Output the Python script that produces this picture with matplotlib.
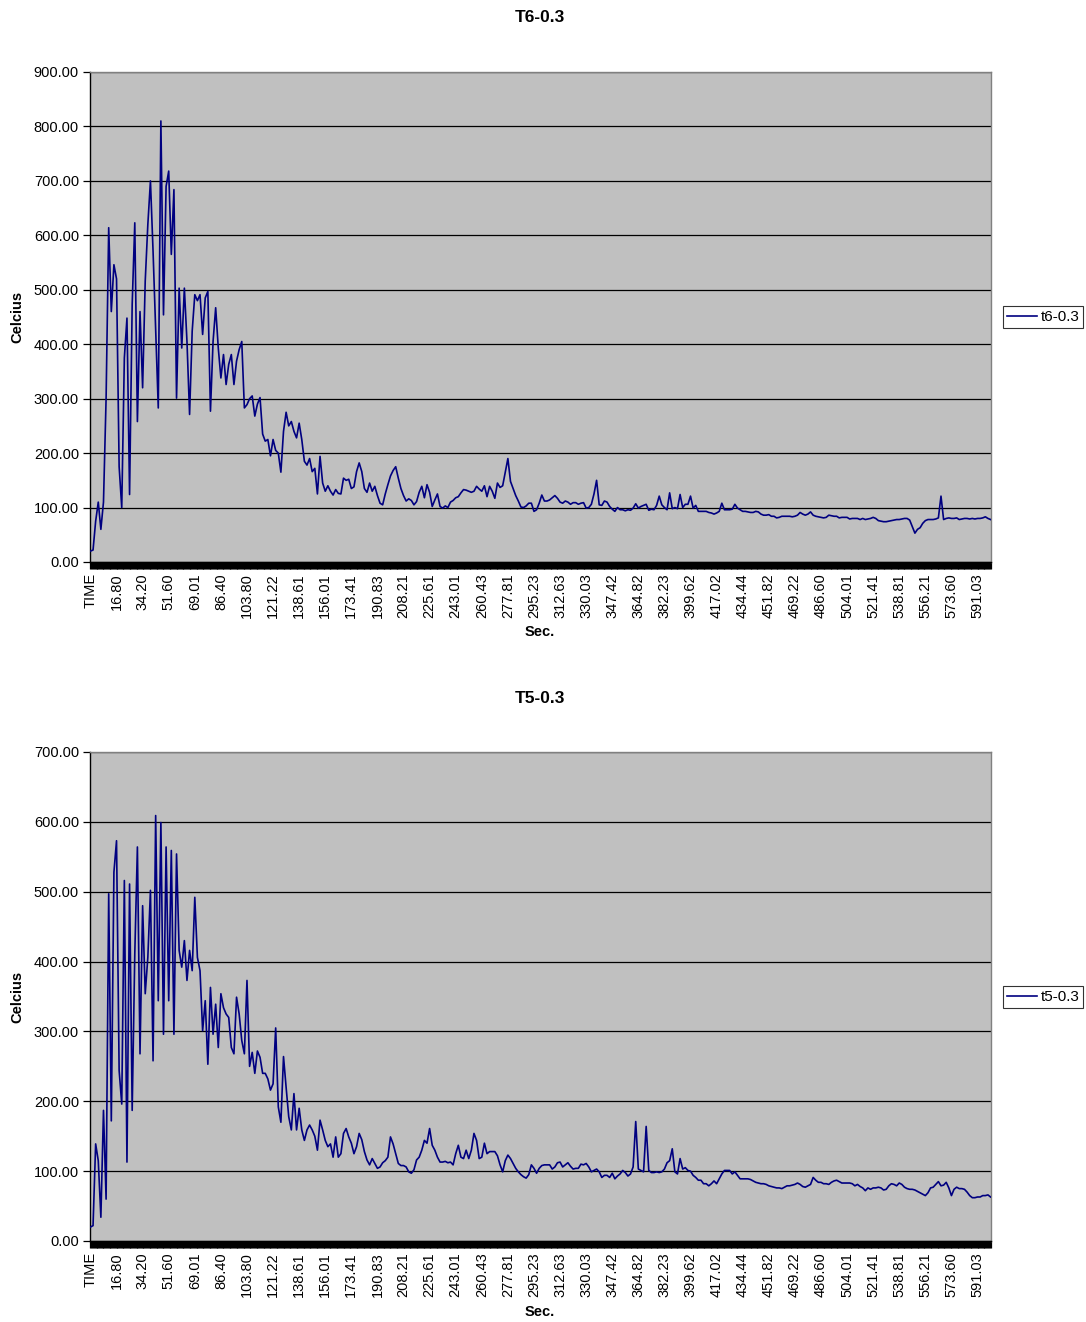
import numpy as np
import matplotlib
matplotlib.use("Agg")
import matplotlib.pyplot as plt
from matplotlib.ticker import FixedLocator, FormatStrFormatter

plt.rcParams['font.family'] = ['Liberation Sans', 'DejaVu Sans']

# ---------------- data ----------------
n_categories = 1036          # number of time samples (category axis)
sample_every = 3             # values below are read every 3rd sample

tick_labels = ["TIME", "16.80", "34.20", "51.60", "69.01", "86.40", "103.80", "121.22",
               "138.61", "156.01", "173.41", "190.83", "208.21", "225.61", "243.01",
               "260.43", "277.81", "295.23", "312.63", "330.03", "347.42", "364.82",
               "382.23", "399.62", "417.02", "434.44", "451.82", "469.22", "486.60",
               "504.01", "521.41", "538.81", "556.21", "573.60", "591.03"]
label_every = 30

t6 = [20, 22, 75, 110, 60, 110, 300, 614, 460, 546,
      520, 175, 100, 375, 448, 124, 473, 623, 258, 460,
      320, 516, 620, 700, 571, 430, 283, 810, 454, 690,
      718, 565, 684, 301, 503, 393, 503, 405, 271, 424,
      491, 480, 491, 418, 485, 497, 277, 405, 467, 393,
      338, 381, 326, 363, 381, 326, 369, 390, 405, 283,
      289,
      300, 305, 268, 290, 302, 235, 222, 225, 195, 225,
      205, 200, 165, 240, 275, 250, 258, 240, 228, 255,
      225, 185, 178, 190, 166, 172, 125, 194, 145, 130,
      140, 130, 123, 133, 126, 125, 154, 150, 152, 135,
      138, 166, 182, 166, 135, 128, 145, 130, 139, 122,
      108, 105, 125, 142, 158, 168, 175, 154, 135, 122,
      112, 116, 113, 105, 111, 128, 139, 118, 142, 128,
      102, 114, 125, 102, 99, 103, 100, 110, 113, 118,
      120, 127, 133, 132, 130, 128, 130, 139, 134, 130,
      140, 120, 139, 130, 117, 145, 137, 140, 165, 190,
      148, 135, 122, 112, 101, 100, 103, 108, 108, 93,
      96, 108, 123, 112, 112, 114, 118, 122, 117, 110,
      108, 112, 110,
      106, 109, 109, 106, 108, 109, 99, 100, 106, 125,
      150, 105, 104, 112, 110, 102, 97, 93, 100, 96,
      96, 94, 96, 95, 99, 107, 99, 102, 104, 106,
      95, 97, 96, 104, 121, 105, 100, 96, 127, 98,
      100, 98, 124, 100, 106, 106, 121, 99, 104, 93,
      93, 93, 93, 91, 90, 88, 90, 93, 108, 96,
      96, 96, 97, 106, 99, 96, 93, 93, 92, 91,
      91, 93, 92, 88, 86, 86, 87, 84, 84, 81,
      82, 84, 84, 84, 84, 83, 84, 86, 91, 88,
      86, 88, 92, 86, 84, 83, 82, 81, 82, 86,
      85, 84, 84, 81, 82, 82, 82, 79, 80, 80,
      80, 78, 80, 78, 79, 80, 82, 80, 76, 75,
      74, 74, 75, 76, 77, 78, 78, 79, 80, 80,
      77, 65, 53, 60, 63, 71, 76, 78, 78, 78,
      79, 81, 121, 78, 80, 81, 80, 80, 81, 78,
      79, 80, 80, 79, 80, 79, 80, 80, 81, 83,
      80, 78]

t5 = [20, 22, 139, 115, 34, 187, 60, 497, 172, 528,
      573, 244, 196, 516, 113, 511, 187, 411, 564, 268,
      480, 354, 406, 502, 258, 609, 344, 599, 296, 564,
      344, 559, 296, 554, 416, 392, 430, 373, 416, 387,
      492, 406, 387, 301, 344, 253, 363, 296, 339, 277,
      354, 334, 325, 320, 277, 268, 349, 325, 287, 268,
      373,
      250, 270, 240, 272, 263, 240, 240, 232, 216, 225,
      305, 192, 170, 264, 220, 178, 159, 211, 159, 190,
      159, 144, 159, 166, 159, 150, 130, 173, 159, 144,
      135, 139, 120, 149, 120, 125, 154, 161, 149, 140,
      125, 135, 154, 145, 128, 116, 109, 118, 111, 104,
      106, 112, 115, 120, 149, 139, 125, 111, 108, 108,
      106, 99, 97, 102, 116, 120, 130, 144, 140, 161,
      137, 130, 120, 113, 113, 114, 112, 113, 109, 125,
      137, 120, 118, 130, 118, 130, 154, 144, 118, 120,
      140, 125, 128, 128, 128, 122, 109, 99, 115, 123,
      118, 111, 104, 99, 95, 92, 90, 95, 109, 104,
      97, 104, 108, 109, 109, 109, 103, 106, 112, 113,
      106, 109, 112,
      107, 103, 104, 104, 110, 109, 111, 106, 99, 101,
      103, 99, 91, 94, 94, 91, 97, 89, 93, 96,
      101, 98, 93, 96, 106, 171, 103, 101, 99, 164,
      101, 98, 98, 99, 98, 99, 103, 112, 115, 132,
      99, 96, 118, 103, 105, 101, 100, 94, 91, 87,
      87, 82, 82, 79, 82, 86, 82, 89, 96, 101,
      101, 101, 96, 99, 94, 89, 89, 89, 89, 88,
      86, 84, 83, 82, 82, 81, 79, 78, 77, 76,
      76, 75, 77, 79, 79, 80, 81, 83, 81, 78,
      77, 79, 81, 91, 87, 84, 84, 82, 82, 81,
      84, 86, 87, 85, 83, 83, 83, 83, 82, 79,
      81, 78, 76, 72, 76, 74, 76, 76, 77, 76,
      73, 74, 79, 82, 81, 79, 83, 81, 77, 75,
      74, 74, 73, 71, 69, 67, 65, 69, 76, 77,
      81, 85, 79, 80, 84, 76, 65, 74, 77, 75,
      75, 74, 70, 65, 62, 62, 63, 63, 65, 65,
      66, 63]

charts = [
    dict(title="T6-0.3", name="t6-0.3", values=t6, ymax=900),
    dict(title="T5-0.3", name="t5-0.3", values=t5, ymax=700),
]

# ---------------- layout ----------------
W, H = 1086, 1322
fig = plt.figure(figsize=(W / 100, H / 100), dpi=100)
fig.patch.set_facecolor("white")

# pixel boxes: (left, top, right, bottom)
boxes = [(90, 72, 991, 562), (90, 752, 991, 1241)]
title_y = [18, 698]
xlabel_y = [632, 1312]
legend_y = [317, 997]

for c, (l, t, r, b), ty, xy, ly in zip(charts, boxes, title_y, xlabel_y, legend_y):
    ax = fig.add_axes([l / W, 1 - b / H, (r - l) / W, (b - t) / H])
    ax.set_facecolor("#C0C0C0")
    vals = np.array(c["values"], dtype=float)
    x = np.arange(len(vals)) * sample_every
    ax.plot(x, vals, color="#000080", lw=1.2, label=c["name"], zorder=3)

    ax.set_xlim(-0.5, n_categories - 0.5)
    ax.set_ylim(0, c["ymax"])
    ax.yaxis.set_major_locator(FixedLocator(np.arange(0, c["ymax"] + 1, 100)))
    ax.yaxis.set_major_formatter(FormatStrFormatter("%.2f"))
    ax.grid(axis="y", color="black", lw=0.9, zorder=1)
    ax.set_axisbelow(True)

    ax.set_xticks(np.arange(len(tick_labels)) * label_every)
    ax.set_xticklabels(tick_labels, rotation=90, fontsize=10.5)
    ax.set_xticks(np.arange(n_categories), minor=True)
    ax.tick_params(axis="x", which="both", direction="out", length=5, width=0.9,
                   color="black", pad=3)
    ax.tick_params(axis="y", direction="out", length=5, width=0.9, labelsize=10.5, pad=3)

    for s in ("left", "bottom"):
        ax.spines[s].set_color("black")
        ax.spines[s].set_linewidth(1.0)
    for s in ("top", "right"):
        ax.spines[s].set_color("#808080")
        ax.spines[s].set_linewidth(1.0)

    fig.text(540 / W, 1 - ty / H, c["title"], ha="center", va="center",
             fontsize=12.5, fontweight="bold")
    fig.text(540 / W, 1 - xy / H, "Sec.", ha="center", va="center",
             fontsize=10.5, fontweight="bold")
    fig.text(17 / W, 1 - ((t + b) / 2) / H, "Celcius", ha="center", va="center",
             rotation=90, fontsize=10.5, fontweight="bold")

    leg = fig.legend(handles=ax.get_lines(), loc="center left",
                     bbox_to_anchor=(1003 / W, 1 - ly / H), fontsize=11,
                     frameon=True, fancybox=False, borderpad=0.25,
                     handlelength=2.0, handletextpad=0.2, borderaxespad=0)
    leg.get_frame().set_edgecolor("black")
    leg.get_frame().set_linewidth(0.8)

fig.savefig("out.png", dpi=100, facecolor="white")
